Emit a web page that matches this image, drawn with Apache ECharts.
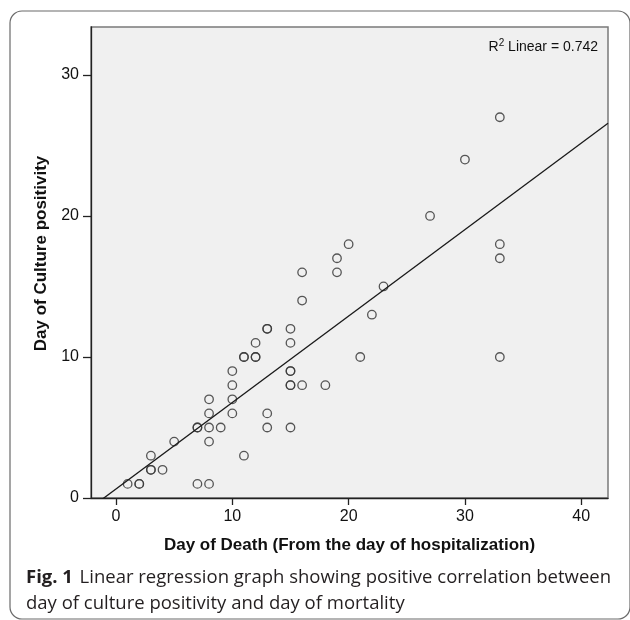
<!DOCTYPE html>
<html>
<head>
<meta charset="utf-8">
<script src="https://cdn.jsdelivr.net/npm/echarts@6/dist/echarts.min.js"></script>
<style>
html,body{margin:0;padding:0;background:#fff;}
#chart{width:630px;height:620px;}
</style>
</head>
<body>
<div id="chart"></div>
<script>
// Day of death (x) and day of culture positivity (y) (duplicates repeated)
const dayOfDeath = [1,2,2,3,3,3,4,5,7,8,7,7,8,8,8,8,9,10,10,10,10,11,11,11,12,12,12,13,13,13,13,15,15,15,15,15,15,15,16,16,16,18,19,19,20,21,22,23,27,30,33,33,33,33];
const dayOfCulture = [1,1,1,3,2,2,2,4,1,1,5,5,7,6,5,4,5,9,8,7,6,3,10,10,10,10,11,12,12,6,5,12,11,9,9,8,8,5,8,14,16,8,17,16,18,10,13,15,20,24,27,18,17,10];
const xTicks = [0,10,20,30,40];
const yTicks = [0,10,20,30];
const r2Text = '0.742';

// least-squares fit line
const n = dayOfDeath.length;
let sx=0, sy=0, sxx=0, sxy=0;
for (let i=0;i<n;i++){ sx+=dayOfDeath[i]; sy+=dayOfCulture[i]; sxx+=dayOfDeath[i]*dayOfDeath[i]; sxy+=dayOfDeath[i]*dayOfCulture[i]; }
const slope = (n*sxy - sx*sy)/(n*sxx - sx*sx);
const intercept = (sy - slope*sx)/n;
const xMin = -2.15, xMax = 42.3, yMin = 0, yMax = 33.4;
const fitData = [[xMin, intercept + slope*xMin],[xMax, intercept + slope*xMax]];

const points = dayOfDeath.map((x,i)=>[x, dayOfCulture[i]]);

const font = 'Liberation Sans, Arial, sans-serif';
const chart = echarts.init(document.getElementById('chart'), null, {renderer:'canvas'});
chart.setOption({
  backgroundColor:'#ffffff',
  animation:false,
  grid:{left:91, top:27, width:517, height:471, show:true, backgroundColor:'#f0f0f0', borderColor:'#7a7a7a', borderWidth:1.5},
  xAxis:{
    type:'value', min:xMin, max:xMax,
    axisLine:{show:true, onZero:false, lineStyle:{color:'#222', width:1.3}},
    axisTick:{show:true, length:7, customValues:xTicks, lineStyle:{color:'#222', width:1.3}},
    axisLabel:{customValues:xTicks, margin:11, color:'#111', fontSize:16, fontFamily:font},
    splitLine:{show:false},
    name:'Day of Death (From the day of hospitalization)', nameLocation:'middle', nameGap:39,
    nameTextStyle:{fontSize:17, fontWeight:'bold', color:'#111', fontFamily:font}
  },
  yAxis:{
    type:'value', min:yMin, max:yMax,
    axisLine:{show:true, onZero:false, lineStyle:{color:'#222', width:1.3}},
    axisTick:{show:true, length:8, customValues:yTicks, lineStyle:{color:'#222', width:1.3}},
    axisLabel:{customValues:yTicks, margin:12, color:'#111', fontSize:16, fontFamily:font},
    splitLine:{show:false},
    name:'Day of Culture positivity', nameLocation:'middle', nameGap:37,
    nameTextStyle:{fontSize:17, fontWeight:'bold', color:'#111', fontFamily:font, padding:[0,0,0,18]}
  },
  series:[
    {type:'scatter', data:points, symbol:'circle', symbolSize:8.5,
     itemStyle:{color:'rgba(0,0,0,0)', borderColor:'#3a3a3a', borderWidth:1.3, opacity:0.85}},
    {type:'line', data:fitData, symbol:'none', clip:true,
     lineStyle:{color:'#1a1a1a', width:1.3}}
  ],
  graphic:[
    {type:'rect', shape:{x:10, y:11, width:620, height:608, r:12}, style:{fill:null, stroke:'#6a6a6a', lineWidth:1.2}, silent:true, z:-1},
    {type:'text', right:32, top:38, style:{
      text:'{a|R}{s|2}{a| Linear = '+r2Text+'}',
      rich:{a:{fontSize:14, fontFamily:font, fill:'#111', verticalAlign:'bottom'},
            s:{fontSize:10, fontFamily:font, fill:'#111', verticalAlign:'top', padding:[0,0,6,0]}}
    }},
    {type:'text', left:26, top:568, style:{
      text:'{b|Fig. 1}  {r|Linear regression graph showing positive correlation between}\n{r|day of culture positivity and day of mortality}',
      rich:{b:{fontSize:18.5, fontWeight:'bold', fontFamily:'Open Sans, sans-serif', fill:'#231f20', lineHeight:26},
            r:{fontSize:18.5, fontFamily:'Open Sans, sans-serif', fill:'#231f20', lineHeight:26}}
    }}
  ]
});
</script>
</body>
</html>
